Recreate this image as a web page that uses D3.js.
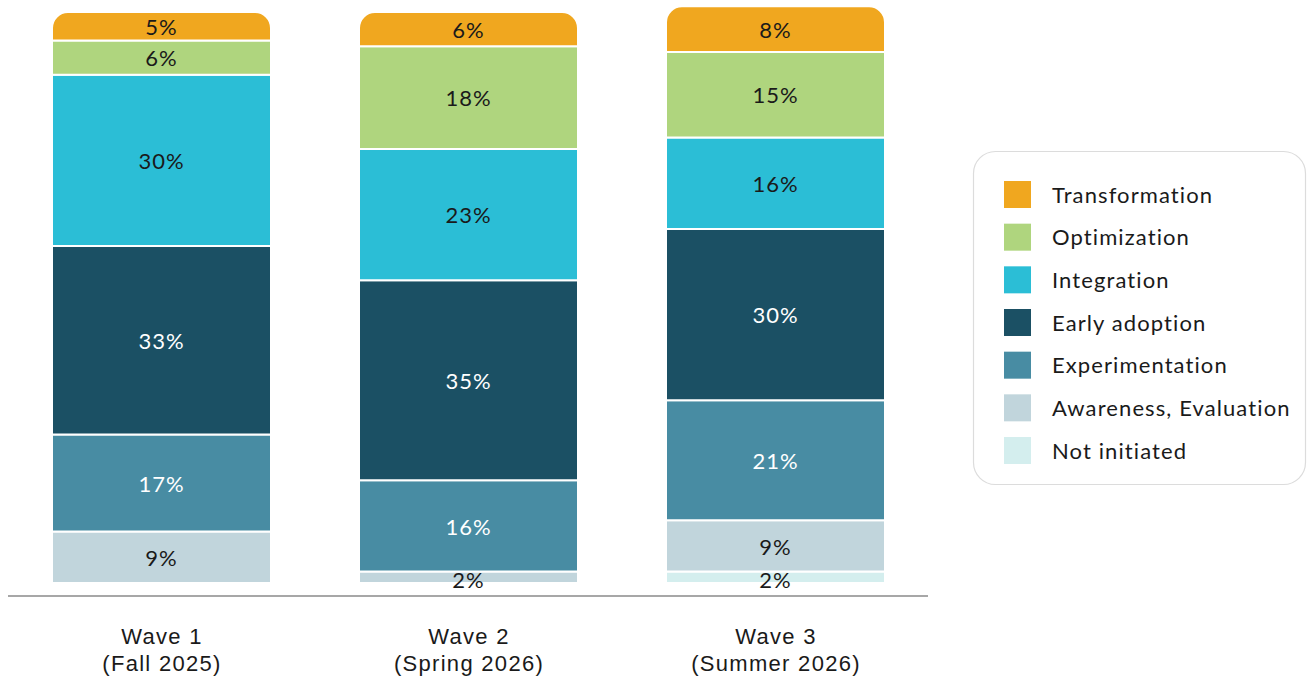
<!DOCTYPE html>
<html>
<head>
<meta charset="utf-8">
<script src="https://cdn.jsdelivr.net/npm/d3@7"></script>
<style>
  html, body { margin: 0; padding: 0; background: #fff; }
  svg { display: block; font-family: Lato, "Open Sans", sans-serif; }
</style>
</head>
<body>
<svg id="chart" width="1316" height="679"></svg>
<script>
// Survey waves
const waves = ["Wave 1", "Wave 2", "Wave 3"];
const waveDates = ["(Fall 2025)", "(Spring 2026)", "(Summer 2026)"];

// Maturity stages, bottom to top
const stages = ["Not initiated", "Awareness, Evaluation", "Experimentation", "Early adoption", "Integration", "Optimization", "Transformation"];
const stageColors = ["#d4eeee", "#c1d5dc", "#488ca3", "#1b5064", "#2bbed6", "#afd57e", "#f0a71f"];
const labelColors = ["#1a1a1a", "#1a1a1a", "#ffffff", "#ffffff", "#1a1a1a", "#1a1a1a", "#1a1a1a"];

// Share of respondents (%) per stage, one value per wave
const notInitiated    = [0, 0, 2];
const awareness       = [9, 2, 9];
const experimentation = [17, 16, 21];
const earlyAdoption   = [33, 35, 30];
const integration     = [30, 23, 16];
const optimization    = [6, 18, 15];
const transformation  = [5, 6, 8];

const seriesValues = [notInitiated, awareness, experimentation, earlyAdoption, integration, optimization, transformation];

const rows = waves.map((w, i) => {
  const r = { wave: w };
  stages.forEach((s, j) => { r[s] = seriesValues[j][i]; });
  return r;
});

const svg = d3.select("#chart");

const x = d3.scalePoint().domain(waves).range([161.5, 775.5]);
const barW = 219;
const y = d3.scaleLinear().domain([0, 100]).range([583, 12]);

const stacked = d3.stack().keys(stages)(rows);

const radius = 16;
function segPath(x0, y0, x1, y1, rounded) {
  const p = d3.path();
  if (!rounded) {
    p.rect(x0, y0, x1 - x0, y1 - y0);
    return p.toString();
  }
  const r = Math.min(radius, (y1 - y0));
  p.moveTo(x0, y1);
  p.lineTo(x0, y0 + r);
  p.arcTo(x0, y0, x0 + r, y0, r);
  p.lineTo(x1 - r, y0);
  p.arcTo(x1, y0, x1, y0 + r, r);
  p.lineTo(x1, y1);
  p.closePath();
  return p.toString();
}

const topIndex = stages.length - 1;

const layer = svg.append("g").selectAll("g")
  .data(stacked)
  .join("g");

layer.selectAll("path")
  .data((d, j) => d.map(v => ({ v, j })).filter(o => o.v[1] - o.v[0] > 0))
  .join("path")
  .attr("d", o => {
    const cx = x(o.v.data.wave);
    return segPath(cx - barW / 2, y(o.v[1]), cx + barW / 2, y(o.v[0]), o.j === topIndex);
  })
  .attr("fill", o => stageColors[o.j])
  .attr("stroke", "#ffffff")
  .attr("stroke-width", 2);

layer.selectAll("text")
  .data((d, j) => d.map(v => ({ v, j })).filter(o => o.v[1] - o.v[0] > 0))
  .join("text")
  .attr("x", o => x(o.v.data.wave))
  .attr("y", o => {
    const mid = (y(o.v[0]) + y(o.v[1])) / 2;
    return mid + (o.v[1] - o.v[0] < 4 ? 3 : 1);
  })
  .attr("dy", "0.35em")
  .attr("text-anchor", "middle")
  .attr("font-size", 22)
  .attr("letter-spacing", "1")
  .attr("fill", o => labelColors[o.j])
  .text(o => (o.v[1] - o.v[0]) + "%");

// Baseline and category labels
const axis = svg.append("g").attr("transform", "translate(0,596)");
axis.call(d3.axisBottom(x).tickSize(0).tickFormat(() => ""));
axis.select(".domain").remove();
axis.append("line")
  .attr("x1", 8).attr("x2", 928)
  .attr("stroke", "#8a8a8a").attr("stroke-width", 1.5);

axis.selectAll(".tick").each(function(d, i) {
  const t = d3.select(this);
  t.select("text").remove();
  const txt = t.append("text")
    .attr("text-anchor", "middle")
    .attr("fill", "#1a1a1a")
    .attr("font-size", 22)
    .attr("letter-spacing", "1.3");
  txt.append("tspan").attr("x", 0).attr("y", 48).text(d);
  txt.append("tspan").attr("x", 0).attr("y", 75).text(waveDates[i]);
});

// Legend
const legend = svg.append("g");
legend.append("rect")
  .attr("x", 973.5).attr("y", 151.5)
  .attr("width", 332).attr("height", 333)
  .attr("rx", 22)
  .attr("fill", "#ffffff")
  .attr("stroke", "#dcdcdc")
  .attr("stroke-width", 1.2);

const legendOrder = stages.slice().reverse();
const ly = d3.scaleLinear().domain([0, legendOrder.length - 1]).range([181, 437]);
const item = legend.selectAll("g.item")
  .data(legendOrder)
  .join("g")
  .attr("class", "item")
  .attr("transform", (d, i) => `translate(1004,${ly(i)})`);

item.append("rect")
  .attr("width", 27).attr("height", 27)
  .attr("fill", d => stageColors[stages.indexOf(d)]);

item.append("text")
  .attr("x", 48).attr("y", 14)
  .attr("dy", "0.35em")
  .attr("font-size", 22)
  .attr("letter-spacing", "1.1")
  .attr("fill", "#1a1a1a")
  .text(d => d);
</script>
</body>
</html>
